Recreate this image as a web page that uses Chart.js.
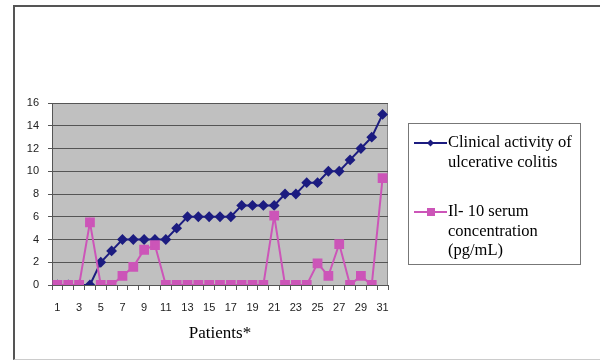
<!DOCTYPE html>
<html>
<head>
<meta charset="utf-8">
<script src="https://cdn.jsdelivr.net/npm/chart.js@4/dist/chart.umd.min.js"></script>
<style>
  html, body { margin: 0; padding: 0; background: #fff; }
  #wrap { position: relative; width: 600px; height: 360px; overflow: hidden; }
  #frame { position: absolute; left: 13px; top: 5px; width: 600px; height: 352px;
           border-left: 2px solid #555; border-top: 2px solid #555; border-bottom: 1px solid #ccc; }
  canvas { position: absolute; left: 0; top: 0; }
</style>
</head>
<body>
<div id="wrap">
  <div id="frame"></div>
  <canvas id="myChart" width="600" height="360"></canvas>
</div>
<script>
// patients 1..31
const patients = []
for (let i = 1; i <= 31; i++) patients.push(String(i))

const clinicalActivity = [0, 0, 0, 0, 2, 3, 4, 4, 4, 4, 4, 5, 6, 6, 6, 6, 6, 7, 7, 7, 7, 8, 8, 9, 9, 10, 10, 11, 12, 13, 15]
const il10 = [0, 0, 0, 5.5, 0, 0, 0.8, 1.6, 3.1, 3.5, 0, 0, 0, 0, 0, 0, 0, 0, 0, 0, 6.1, 0, 0, 0, 1.9, 0.8, 3.6, 0, 0.8, 0, 9.4]

const yTicks = [0, 2, 4, 6, 8, 10, 12, 14, 16]

const legendLines = [
  ['Clinical activity of', 'ulcerative colitis'],
  ['Il- 10 serum', 'concentration', '(pg/mL)']
]

const blue = '#1c1c80'
const pink = '#cc55b8'

// gray plot background + border
const plotBg = {
  id: 'plotBg',
  beforeDraw(chart) {
    const { ctx, chartArea: a } = chart
    ctx.save()
    ctx.fillStyle = '#c0c0c0'
    ctx.fillRect(a.left, a.top, a.right - a.left, a.bottom - a.top)
    ctx.strokeStyle = '#8a8a8a'
    ctx.lineWidth = 1
    ctx.beginPath()
    ctx.moveTo(a.left, a.top + 0.5)
    ctx.lineTo(a.right - 0.5, a.top + 0.5)
    ctx.lineTo(a.right - 0.5, a.bottom)
    ctx.stroke()
    ctx.restore()
  }
}

// Excel-like legend box on the right
const boxLegend = {
  id: 'boxLegend',
  afterDraw(chart) {
    const { ctx } = chart
    const x0 = 408, y0 = 123, w = 172, h = 141
    ctx.save()
    ctx.strokeStyle = '#777'
    ctx.lineWidth = 1
    ctx.strokeRect(x0 + 0.5, y0 + 0.5, w, h)
    ctx.font = '16.5px "Liberation Serif"'
    ctx.textBaseline = 'middle'
    ctx.fillStyle = '#000'
    const starts = [143, 212]
    chart.data.datasets.forEach((ds, i) => {
      const y = starts[i]
      ctx.strokeStyle = ds.borderColor
      ctx.lineWidth = 2
      ctx.beginPath()
      ctx.moveTo(414, y)
      ctx.lineTo(447, y)
      ctx.stroke()
      ctx.fillStyle = ds.borderColor
      if (ds.pointStyle === 'rectRot') {
        ctx.beginPath()
        ctx.moveTo(430.5, y - 3.5); ctx.lineTo(434, y); ctx.lineTo(430.5, y + 3.5); ctx.lineTo(427, y)
        ctx.closePath(); ctx.fill()
      } else {
        ctx.fillRect(427, y - 4, 8, 8)
      }
      ctx.fillStyle = '#000'
      legendLines[i].forEach((t, k) => ctx.fillText(t, 448, y + k * 19.5))
    })
    ctx.restore()
  }
}

const config = {
  type: 'line',
  data: {
    labels: patients,
    datasets: [
      {
        label: 'Clinical activity of ulcerative colitis',
        data: clinicalActivity,
        borderColor: blue,
        backgroundColor: blue,
        borderWidth: 2,
        pointStyle: 'rectRot',
        pointRadius: 4,
        pointHoverRadius: 4,
        tension: 0,
        order: 2
      },
      {
        label: 'Il- 10 serum concentration (pg/mL)',
        data: il10,
        borderColor: pink,
        backgroundColor: pink,
        borderWidth: 2,
        pointStyle: 'rect',
        pointRadius: 5.5,
        pointHoverRadius: 5.5,
        tension: 0,
        order: 1
      }
    ]
  },
  options: {
    responsive: false,
    animation: false,
    layout: { padding: { left: 0, right: 212, top: 103, bottom: 16 } },
    plugins: {
      legend: { display: false },
      tooltip: { enabled: false }
    },
    scales: {
      x: {
        offset: true,
        grid: { offset: true, drawOnChartArea: false, color: '#555', tickLength: 5 },
        border: { color: '#555', width: 1 },
        ticks: {
          autoSkip: false,
          maxRotation: 0,
          padding: 11,
          color: '#222',
          font: { family: '"Liberation Sans"', size: 11 },
          callback: function (v, i) { return i % 2 === 0 ? this.getLabelForValue(v) : '' }
        },
        title: {
          display: true,
          text: 'Patients*',
          color: '#000',
          font: { family: '"Liberation Serif"', size: 17 },
          padding: { top: 2, bottom: 0 }
        },
        afterFit(scale) { scale.height = 59 }
      },
      y: {
        min: 0,
        max: 16,
        afterBuildTicks(scale) { scale.ticks = yTicks.map(v => ({ value: v })) },
        grid: { color: '#555', tickLength: 4, lineWidth: 1 },
        border: { color: '#555', width: 1 },
        ticks: {
          padding: 9,
          color: '#222',
          font: { family: '"Liberation Sans"', size: 11 }
        },
        afterFit(scale) { scale.width = 52 }
      }
    }
  },
  plugins: [plotBg, boxLegend]
}

new Chart(document.getElementById('myChart'), config)
</script>
</body>
</html>
